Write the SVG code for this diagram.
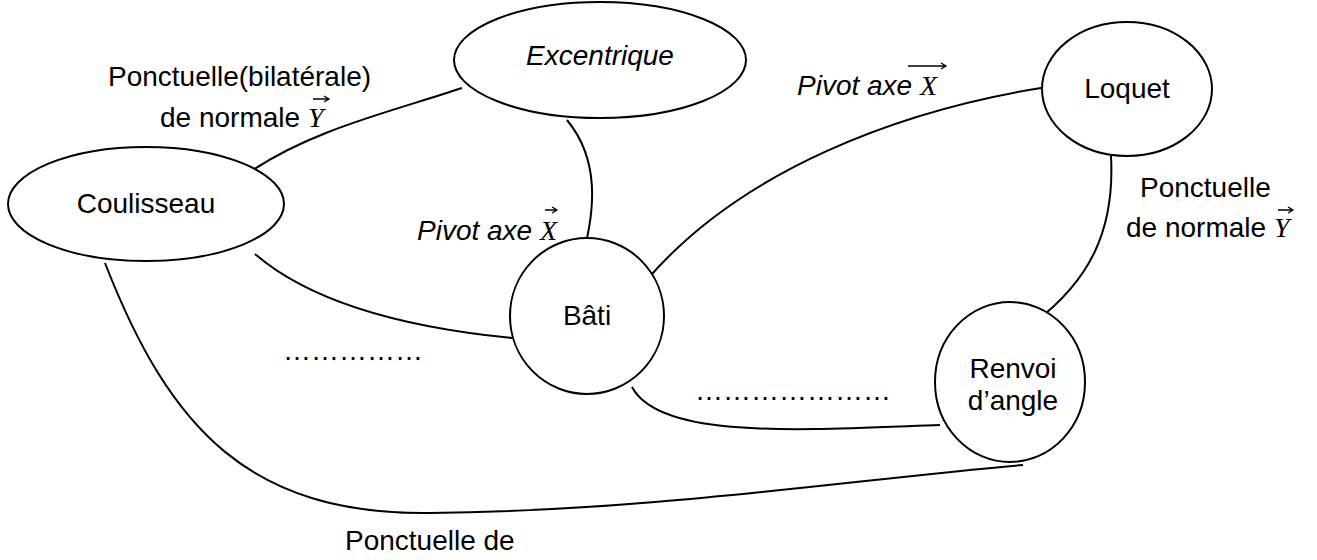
<svg xmlns="http://www.w3.org/2000/svg" width="1317" height="560" viewBox="0 0 1317 560">
<style>
.n{fill:#fff;stroke:#000;stroke-width:2}
.c{fill:none;stroke:#000;stroke-width:2}
text{font-family:"Liberation Sans",Arial,sans-serif;font-size:28px;fill:#000}
.i{font-style:italic}
.m{font-family:"Liberation Serif","Times New Roman",serif;font-style:italic}
.v{fill:none;stroke:#000;stroke-width:1.3}
</style>
<rect width="1317" height="560" fill="#fff"/>
<g id="connectors">
<path class="c" d="M247 174 C310 130 390 112 462 88"/>
<path class="c" d="M567 120 C600 160 595 210 583 255"/>
<path class="c" d="M255 254 C320 310 430 330 512 338"/>
<path class="c" d="M645 282 C740 170 900 110 1047 87"/>
<path class="c" d="M1111 156 C1115 230 1090 280 1035 322"/>
<path class="c" d="M632 387 C660 440 800 430 940 425"/>
<path class="c" d="M105 263 C170 430 250 515 430 513 C650 511 850 480 1023 465"/>
</g>
<g id="excentrique">
<ellipse class="n" cx="600" cy="60" rx="146" ry="58"/>
<text class="i" x="600" y="65" text-anchor="middle">Excentrique</text>
</g>
<g id="coulisseau">
<ellipse class="n" cx="146" cy="204" rx="138" ry="57"/>
<text x="146" y="213" text-anchor="middle">Coulisseau</text>
</g>
<g id="bati">
<ellipse class="n" cx="587" cy="316" rx="77" ry="78"/>
<text x="587" y="325" text-anchor="middle">Bâti</text>
</g>
<g id="loquet">
<ellipse class="n" cx="1127" cy="89" rx="85" ry="67"/>
<text x="1127" y="98" text-anchor="middle">Loquet</text>
</g>
<g id="renvoi">
<ellipse class="n" cx="1010" cy="382" rx="75" ry="80"/>
<text x="1013" y="378" text-anchor="middle">Renvoi</text>
<text x="1013" y="410" text-anchor="middle">d’angle</text>
</g>
<g id="labels">
<text x="108" y="86">Ponctuelle(bilatérale)</text>
<text x="160" y="127">de normale <tspan class="m">Y</tspan></text>
<path class="v" d="M313 99 H329 M324 96 L329 99 L324 102"/>
<text class="i" x="417" y="240">Pivot axe <tspan class="m">X</tspan></text>
<path class="v" d="M545 210 H557 M552 207 L557 210 L552 213"/>
<text class="i" x="797" y="95">Pivot axe <tspan class="m">X</tspan></text>
<path class="v" d="M908 66 H946 M941 63 L946 66 L941 69"/>
<text x="1140" y="197">Ponctuelle</text>
<text x="1126" y="237">de normale <tspan class="m">Y</tspan></text>
<path class="v" d="M1278 210 H1293 M1288 207 L1293 210 L1288 213"/>
<text x="283" y="360">……………</text>
<text x="695" y="400">…………………</text>
<text x="345" y="550">Ponctuelle de</text>
</g>
</svg>
